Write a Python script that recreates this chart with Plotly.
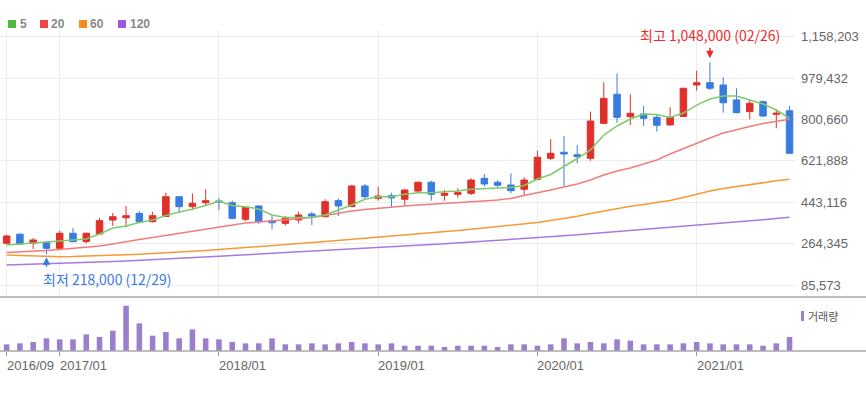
import plotly.graph_objects as go
import pandas as pd

# ---------------- data (monthly, 2016/09 .. 2021/08) ----------------
months = list(pd.date_range("2016-09-01", periods=60, freq="MS").strftime("%Y/%m"))

open_ = [266000, 305000, 266000, 270000, 244000, 309000, 273000, 306000, 366000, 376000,
         395000, 359000, 381500, 467000, 424000, 441000, 448500, 441000, 369500, 427000,
         363500, 352000, 366500, 392500, 380500, 450000, 424000, 513500, 460000, 471500,
         456000, 491500, 529500, 473000, 477500, 481500, 546500, 529500, 517500, 499000,
         542000, 633000, 659000, 648500, 633000, 784000, 909500, 812500, 824500, 810000,
         777000, 813500, 949500, 959500, 949500, 885000, 834500, 877500, 823000, 838500]
high = [301500, 310000, 288500, 275500, 320000, 332000, 312500, 375000, 396500, 427000,
        405500, 402500, 484500, 470000, 481500, 499000, 461500, 450000, 427000, 429000,
        388000, 383500, 402500, 402500, 456000, 460000, 517500, 522000, 510500, 484500,
        500500, 532500, 536000, 496000, 503500, 546500, 565000, 539000, 568000, 551000,
        666000, 715000, 729500, 690500, 834500, 961500, 1000000, 909500, 859000, 820000,
        853500, 936500, 1011000, 1048000, 983000, 935500, 885000, 882500, 844500, 859000]
low = [260500, 258500, 241000, 218000, 241000, 271000, 265000, 301500, 340500, 336000,
       353500, 355500, 379500, 398000, 409500, 431000, 409500, 369500, 362000, 349000,
       326000, 342000, 352000, 345000, 377000, 383500, 422500, 453000, 450000, 421500,
       427000, 481500, 450000, 450000, 463500, 474500, 510500, 507000, 481500, 470000,
       539000, 625500, 507500, 611500, 622500, 781000, 786500, 777000, 772500, 748000,
       774500, 811500, 925000, 928000, 830000, 826500, 801500, 811500, 762500, 651500]
close = [297500, 262500, 280000, 244000, 309000, 272500, 309000, 363500, 380500, 385000,
         359000, 385000, 467000, 424000, 438500, 450000, 444000, 373500, 421500, 359000,
         354500, 373500, 388000, 383500, 445500, 427000, 513500, 467000, 470000, 461500,
         496000, 529500, 477500, 481500, 484500, 539000, 522000, 516500, 493000, 539000,
         637500, 654500, 651500, 640000, 794000, 892000, 810000, 827500, 805500, 775500,
         810000, 935500, 959500, 935500, 873000, 830000, 870500, 815500, 827500, 654500]

ma5 = [258000, 262500, 267000, 271500, 275500, 278000, 284500, 306000, 332000, 340500,
       355500, 366500, 386000, 401000, 412500, 429000, 447000, 429000, 424000, 414000,
       388000, 377000, 377000, 378000, 388000, 409500, 431000, 456000, 467000, 467000,
       477500, 484500, 484500, 488500, 491500, 499000, 501500, 507000, 507000, 515500,
       543500, 563000, 596500, 632000, 669000, 733500, 772500, 802500, 824500, 822000,
       809000, 828500, 863000, 889000, 902000, 902000, 885000, 867500, 841500, 805500]
ma20 = [226000, 228000, 231000, 234500, 239000, 243500, 247500, 254000, 262500, 273500,
        282000, 291000, 299500, 308000, 316500, 327500, 336000, 345000, 353500, 358000,
        362000, 366500, 370500, 377000, 386000, 396500, 405500, 412000, 418000, 422500,
        427000, 431000, 434000, 437500, 441000, 444000, 448500, 453000, 459500, 472500,
        483000, 496000, 509000, 522000, 539000, 561000, 578000, 591000, 608500, 625500,
        651500, 675500, 699000, 720500, 742000, 757500, 770500, 783500, 794000, 801500]
ma60 = [215000, 213000, 211000, 208500, 208000, 208500, 210000, 211500, 214000, 216000,
        218500, 221500, 224000, 227500, 231000, 234500, 238500, 242500, 246500, 250500,
        255000, 259500, 264000, 269000, 274000, 278500, 283000, 287500, 291500, 296000,
        300500, 306000, 311000, 316500, 321500, 326500, 332000, 338000, 344000, 350000,
        356000, 364000, 373000, 382500, 394500, 405500, 416000, 425500, 433500, 441000,
        450500, 463500, 478500, 491500, 502500, 511000, 520000, 528500, 535500, 542000]
ma120 = [172000, 173500, 175500, 177000, 179000, 180500, 183000, 185000, 187000, 189500,
         192000, 194500, 197000, 200000, 203500, 206500, 210000, 213000, 216000, 218500,
         221000, 224000, 227000, 230000, 233000, 236000, 239500, 243000, 246500, 250000,
         253000, 256500, 260000, 263500, 267000, 270500, 274000, 278000, 281500, 285500,
         289500, 294000, 298000, 302500, 307000, 311000, 315500, 319500, 324000, 328500,
         332500, 337500, 342500, 348000, 353000, 358000, 362500, 367500, 372500, 378000]

volume = [800000, 920000, 1080000, 1520000, 1400000, 1400000, 2000000, 1680000, 2440000, 5440000,
          3320000, 1840000, 2280000, 1520000, 2600000, 1520000, 1400000, 1080000, 920000, 920000,
          1520000, 800000, 800000, 920000, 800000, 920000, 1080000, 920000, 800000, 920000,
          640000, 640000, 640000, 480000, 640000, 640000, 640000, 480000, 800000, 800000,
          640000, 800000, 1520000, 920000, 1080000, 920000, 1400000, 1240000, 800000, 800000,
          800000, 920000, 1080000, 920000, 800000, 800000, 800000, 640000, 920000, 1680000]

tick_months = ["2016/09", "2017/01", "2018/01", "2019/01", "2020/01", "2021/01"]
price_ticks = [85573, 264345, 443116, 621888, 800660, 979432, 1158203]
price_tick_text = [f"{v:,}" for v in price_ticks]

ma_names = ["5", "20", "60", "120"]
ma_line_colors = ["#7fcb6c", "#f27c7c", "#f79a33", "#a67be0"]
ma_legend_colors = ["#4dbb3e", "#ee4646", "#f58a1f", "#9b5bd6"]

high_label = "최고 1,048,000 (02/26)"
low_label = "최저 218,000 (12/29)"

# ---------------- styling ----------------
W, H = 866, 394
RED = "#e0302a"
BLUE = "#3a7be0"
VOLC = "#9a80cc"
GRID = "#ececec"
NUMFONT = "Liberation Sans, Arial, sans-serif"
KRFONT = "Noto Sans CJK KR, sans-serif"


def px_x(p):
    return p / W


def px_y(p):
    return (H - p) / H


fig = go.Figure()

for vals, col in zip([ma120, ma60, ma20, ma5], ma_line_colors[::-1]):
    fig.add_trace(go.Scatter(x=months, y=vals, mode="lines",
                             line=dict(color=col, width=1.5),
                             xaxis="x", yaxis="y", hoverinfo="skip", showlegend=False))

fig.add_trace(go.Candlestick(
    x=months, open=open_, high=high, low=low, close=close,
    increasing=dict(line=dict(color=RED, width=1), fillcolor=RED),
    decreasing=dict(line=dict(color=BLUE, width=1), fillcolor=BLUE),
    xaxis="x", yaxis="y", showlegend=False))

fig.add_trace(go.Bar(x=months, y=volume, marker=dict(color=VOLC, line=dict(width=0)),
                     width=0.42, xaxis="x2", yaxis="y2", showlegend=False, hoverinfo="skip"))

x_dom = [0, px_x(795)]
fig.update_layout(
    width=W, height=H,
    margin=dict(l=0, r=0, t=0, b=0),
    paper_bgcolor="white", plot_bgcolor="white",
    font=dict(family=NUMFONT, size=13, color="#666"),
    xaxis=dict(type="category", categoryorder="array", categoryarray=months,
               domain=x_dom, range=[-0.5, 59.41], anchor="y",
               tickvals=tick_months, showticklabels=False, ticks="",
               showgrid=True, gridcolor=GRID, gridwidth=1, zeroline=False,
               showline=False, rangeslider=dict(visible=False), fixedrange=True),
    xaxis2=dict(type="category", matches="x", anchor="y2", domain=x_dom,
                tickvals=tick_months, showticklabels=False,
                ticks="outside", ticklen=4, tickcolor="#999", tickwidth=1,
                showgrid=False, zeroline=False, showline=False),
    yaxis=dict(domain=[px_y(297), px_y(30)], range=[33733, 1187173], anchor="x",
               side="right", tickvals=price_ticks, ticktext=price_tick_text,
               tickfont=dict(family=NUMFONT, size=13, color="#666"),
               ticks="", ticklabelstandoff=5, automargin=False,
               showgrid=True, gridcolor=GRID, gridwidth=1, zeroline=False, showline=False),
    yaxis2=dict(domain=[px_y(351), px_y(302)], range=[0, 5884000], anchor="x2",
                showticklabels=False, showgrid=False, zeroline=False, ticks=""),
    showlegend=False,
)

shapes = [
    dict(type="line", xref="paper", yref="paper", x0=0, x1=1, y0=px_y(297), y1=px_y(297),
         line=dict(color="#a8a8a8", width=1.5)),
    dict(type="line", xref="paper", yref="paper", x0=0, x1=1, y0=px_y(351), y1=px_y(351),
         line=dict(color="#a8a8a8", width=1.5)),
    # volume legend marker
    dict(type="rect", xref="paper", yref="paper", x0=px_x(801), x1=px_x(804),
         y0=px_y(321), y1=px_y(311), line=dict(width=0), fillcolor=VOLC),
]

annotations = []
# top legend
leg_sq_x = [8, 40, 79, 118]
leg_txt_x = [18, 49, 88, 128]
for name, col, sx, tx in zip(ma_names, ma_legend_colors, leg_sq_x, leg_txt_x):
    shapes.append(dict(type="rect", xref="paper", yref="paper",
                       x0=px_x(sx), x1=px_x(sx + 8), y0=px_y(28), y1=px_y(20),
                       line=dict(width=0), fillcolor=col))
    annotations.append(dict(xref="paper", yref="paper", x=px_x(tx), y=px_y(24),
                            xanchor="left", yanchor="middle", showarrow=False,
                            text=f"<b>{name}</b>",
                            font=dict(family=NUMFONT, size=12, color="#888")))

# x-axis labels (left aligned at tick)
for m in tick_months:
    annotations.append(dict(xref="x2", yref="paper", x=m, y=px_y(365),
                            xanchor="left", yanchor="middle", xshift=-2, showarrow=False,
                            text=m, font=dict(family=NUMFONT, size=13, color="#666")))

# volume legend text
annotations.append(dict(xref="paper", yref="paper", x=px_x(806), y=px_y(316),
                        xanchor="left", yanchor="middle", showarrow=False,
                        text="거래량", font=dict(family=KRFONT, size=11, color="#555")))

# high / low markers
hi_i = high.index(max(high))
lo_i = low.index(min(low))
annotations.append(dict(xref="x", yref="y", x=months[hi_i], y=high[hi_i],
                        xanchor="center", yanchor="bottom", yshift=15, showarrow=False,
                        text=high_label, font=dict(family=KRFONT, size=14, color="#ee2b2b")))
annotations.append(dict(xref="x", yref="y", x=months[hi_i], y=high[hi_i], text="",
                        showarrow=True, ax=0, ay=-16, standoff=4, arrowhead=2,
                        arrowsize=1, arrowwidth=1.5, arrowcolor="#ee2b2b"))
annotations.append(dict(xref="x", yref="y", x=months[lo_i], y=low[lo_i],
                        xanchor="left", yanchor="top", xshift=-5, yshift=-13, showarrow=False,
                        text=low_label, font=dict(family=KRFONT, size=14, color="#3a7be0")))
annotations.append(dict(xref="x", yref="y", x=months[lo_i], y=low[lo_i], text="",
                        showarrow=True, ax=0, ay=14, standoff=3, arrowhead=2,
                        arrowsize=1, arrowwidth=1.5, arrowcolor="#3a7be0"))

fig.update_layout(shapes=shapes, annotations=annotations)

fig.write_html("out.html", config={"displayModeBar": False},
               post_script="document.body.style.margin='0';document.body.style.padding='0';")
